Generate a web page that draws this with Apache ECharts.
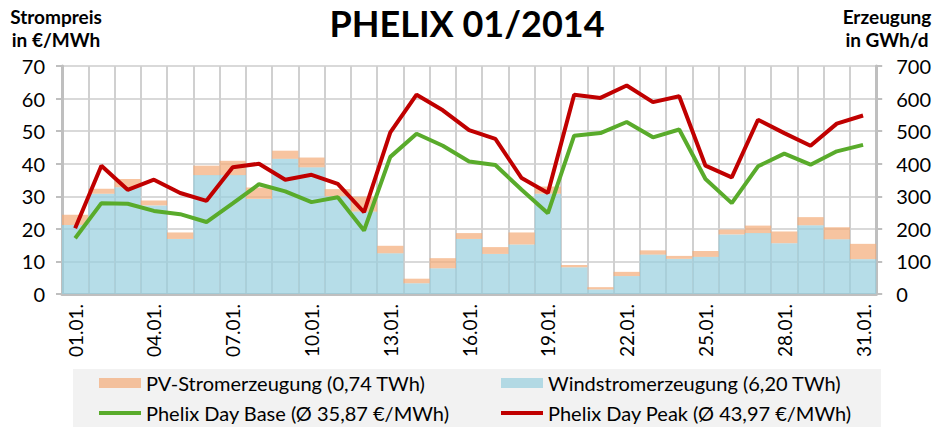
<!DOCTYPE html>
<html>
<head>
<meta charset="utf-8">
<script src="https://cdn.jsdelivr.net/npm/echarts@6/dist/echarts.min.js"></script>
<style>
html,body{margin:0;padding:0;background:#fff;}
#chart{width:934px;height:427px;}
</style>
</head>
<body>
<div id="chart"></div>
<script>
const days = ['01.01.','02.01.','03.01.','04.01.','05.01.','06.01.','07.01.','08.01.','09.01.','10.01.',
  '11.01.','12.01.','13.01.','14.01.','15.01.','16.01.','17.01.','18.01.','19.01.','20.01.',
  '21.01.','22.01.','23.01.','24.01.','25.01.','26.01.','27.01.','28.01.','29.01.','30.01.','31.01.'];
// GWh/d
const windGWh = [212,308,328,272,169,365,365,292,415,389,300,253,125,33,79,169,123,152,308,82,14,55,121,108,114,183,187,156,211,168,107];
const pvGWh = [31,15,25,15,20,29,44,35,25,30,22,46,23,14,31,18,21,37,22,7,7,13,13,9,18,15,23,36,25,37,47];
// €/MWh
const phelixBase = [17.1,27.9,27.7,25.5,24.5,22.1,27.8,33.7,31.5,28.2,29.7,19.5,42.1,49.2,45.5,40.7,39.6,32.0,24.8,48.6,49.4,52.8,48.1,50.5,35.3,27.9,39.2,43.1,39.7,43.8,45.8];
const phelixPeak = [20.2,39.4,32.0,35.1,31.0,28.6,38.9,40.0,35.1,36.6,33.8,25.1,49.6,61.2,56.4,50.3,47.6,35.6,31.0,61.2,60.2,64.0,58.9,60.7,39.4,35.8,53.5,49.4,45.5,52.3,54.8];
const names = {
  pv: 'PV-Stromerzeugung (0,74 TWh)',
  wind: 'Windstromerzeugung (6,20 TWh)',
  base: 'Phelix Day Base (Ø 35,87 €/MWh)',
  peak: 'Phelix Day Peak (Ø 43,97 €/MWh)'
};

const axisFont = 'Lato';
const legendFont = 'Lato';
const chart = echarts.init(document.getElementById('chart'), null, {renderer: 'svg'});
const axisLineStyle = {color: '#bfbfbf', width: 3};
function legendItem(name, left, top, h) {
  return {
    orient: 'horizontal',
    left: left,
    top: top,
    padding: 0,
    itemWidth: 42,
    itemHeight: h,
    itemGap: 4,
    icon: 'rect',
    data: [name],
    textStyle: {fontFamily: legendFont, fontSize: 20, color: '#000', lineHeight: 22},
    z: 10
  };
}
chart.setOption({
  animation: false,
  title: {
    text: 'PHELIX 01/2014',
    left: 'center',
    top: 0,
    textStyle: {fontFamily: 'Lato', fontWeight: 'bold', fontSize: 36, color: '#000'}
  },
  graphic: [
    {type: 'rect', z: 0, shape: {x: 73, y: 369, width: 808, height: 58}, style: {fill: '#f2f2f2'}},
    {type: 'text', z: 5, style: {x: 56, y: 5, text: 'Strompreis\nin €/MWh', textAlign: 'center', font: 'bold 19px Lato', lineHeight: 23, fill: '#000'}},
    {type: 'text', z: 5, style: {x: 887, y: 5, text: 'Erzeugung\nin GWh/d', textAlign: 'center', font: 'bold 19px Lato', lineHeight: 23, fill: '#000'}}
  ],
  legend: [
    legendItem(names.pv, 99, 372, 10),
    legendItem(names.base, 99, 402, 4),
    legendItem(names.wind, 501, 372, 10),
    legendItem(names.peak, 501, 402, 4)
  ],
  grid: {left: 62, right: 53, top: 66, bottom: 133},
  xAxis: {
    type: 'category',
    data: days,
    boundaryGap: true,
    axisLine: {lineStyle: axisLineStyle},
    axisTick: {interval: 2, length: 6, lineStyle: {color: '#bfbfbf', width: 2}},
    axisLabel: {interval: 2, rotate: 90, fontSize: 19, fontFamily: axisFont, color: '#000', margin: 10},
    splitLine: {show: true, interval: 0, lineStyle: {color: '#d0d0d0', width: 2}}
  },
  yAxis: [
    {
      type: 'value', min: 0, max: 70, interval: 10, position: 'left',
      axisLine: {show: true, lineStyle: axisLineStyle},
      axisTick: {show: true, length: 6, lineStyle: {color: '#bfbfbf', width: 2}},
      axisLabel: {fontSize: 20, fontFamily: axisFont, color: '#000', margin: 17},
      splitLine: {show: true, lineStyle: {color: '#d9d9d9', width: 2}}
    },
    {
      type: 'value', min: 0, max: 700, interval: 100, position: 'right',
      axisLine: {show: true, lineStyle: axisLineStyle},
      axisTick: {show: true, length: 6, lineStyle: {color: '#bfbfbf', width: 2}},
      axisLabel: {fontSize: 20, fontFamily: axisFont, color: '#000', margin: 20},
      splitLine: {show: false}
    }
  ],
  series: [
    {
      name: names.wind, type: 'bar', yAxisIndex: 1, stack: 'gen', data: windGWh,
      barCategoryGap: '0%',
      itemStyle: {color: 'rgba(151,206,222,0.7)'}
    },
    {
      name: names.pv, type: 'bar', yAxisIndex: 1, stack: 'gen', data: pvGWh,
      barCategoryGap: '0%',
      itemStyle: {color: 'rgba(244,171,119,0.7)'}
    },
    {
      name: names.base, type: 'line', yAxisIndex: 0, data: phelixBase,
      symbol: 'none', lineStyle: {color: '#59ab2b', width: 4}, itemStyle: {color: '#59ab2b'}, z: 5
    },
    {
      name: names.peak, type: 'line', yAxisIndex: 0, data: phelixPeak,
      symbol: 'none', lineStyle: {color: '#c00000', width: 4}, itemStyle: {color: '#c00000'}, z: 6
    }
  ]
});
</script>
</body>
</html>
